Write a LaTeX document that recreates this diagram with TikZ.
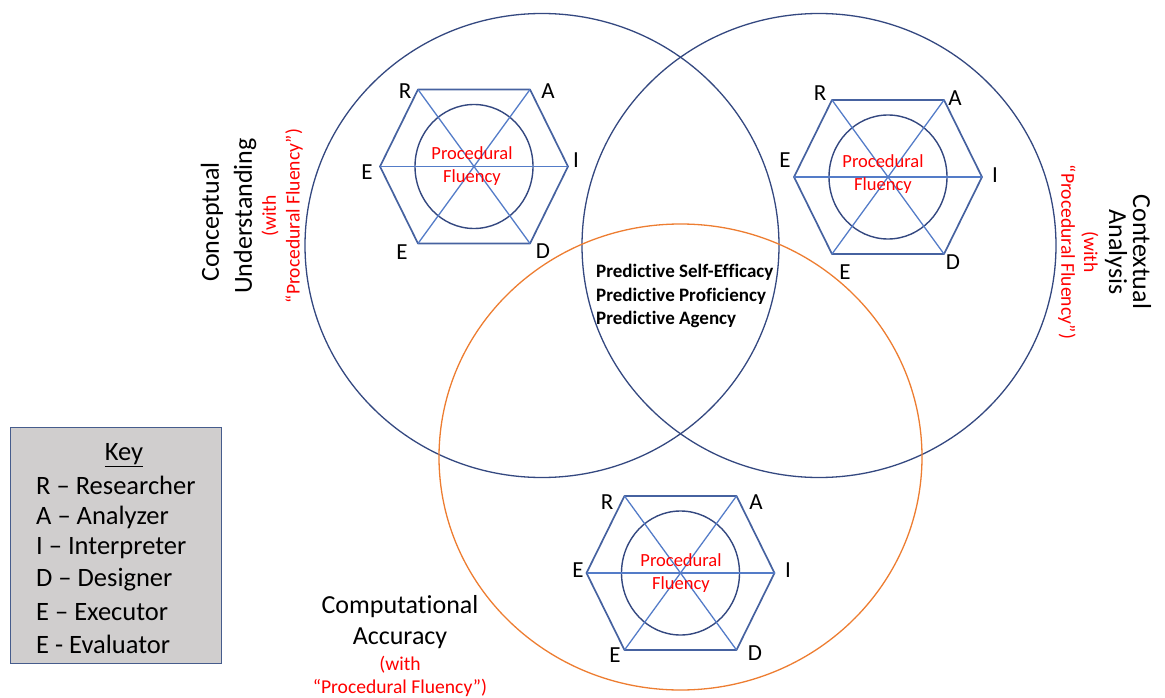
\documentclass[tikz,border=0pt]{standalone}
\usepackage{fontspec}
\setmainfont{Carlito}[Ligatures=NoCommon]
\definecolor{ringblue}{RGB}{52,72,128}
\definecolor{hexblue}{RGB}{70,98,160}
\definecolor{spokeblue}{RGB}{84,124,200}
\definecolor{ringorange}{RGB}{237,125,49}
\definecolor{keygray}{RGB}{208,206,206}
\definecolor{keyedge}{RGB}{70,92,140}
\definecolor{labelred}{RGB}{255,0,0}
\tikzset{
  bigring/.style={draw=ringblue, line width=1.3pt},
  orangering/.style={draw=ringorange, line width=1.3pt},
  hexedge/.style={draw=hexblue, line width=1.7pt, line join=round},
  spoke/.style={draw=spokeblue, line width=1.3pt},
  innerring/.style={draw=ringblue, line width=1.4pt},
  rolelabel/.style={font=\fontsize{23}{27}\selectfont, text=black, inner sep=0pt},
  pftext/.style={text=labelred, align=center, font=\fontsize{18.5}{23}\selectfont, inner sep=0pt},
  headlabel/.style={font=\fontsize{26}{31}\selectfont, text=black, inner sep=0pt},
  redlabel/.style={font=\fontsize{19.6}{23}\selectfont, text=labelred, inner sep=0pt},
  keyline/.style={font=\fontsize{26.5}{31}\selectfont, text=black, inner sep=0pt, anchor=west},
  pics/rolehex/.style={code={
    \coordinate (-c) at (0,0);
    \coordinate (-R) at (-56,-77);
    \coordinate (-A) at (56,-77);
    \coordinate (-I) at (94,0);
    \coordinate (-D) at (56,77);
    \coordinate (-Eb) at (-56,77);
    \coordinate (-El) at (-94,0);
    \draw[innerring] (0,0) ellipse [x radius=59pt, y radius=62pt];
    \draw[hexedge] (-R) -- (-A) -- (-I) -- (-D) -- (-Eb) -- (-El) -- cycle;
    \draw[spoke] (-R) -- (-D);
    \draw[spoke] (-A) -- (-Eb);
    \draw[spoke] (-El) -- (-c) -- (-I);
  }}
}
\begin{document}
\begin{tikzpicture}[x=1pt,y=-1pt]
\useasboundingbox (0,0) rectangle (1165,698);

% the three overlapping domains
\draw[bigring] (542,245.5) ellipse [x radius=237pt, y radius=232pt];
\draw[bigring] (819,245.5) ellipse [x radius=237pt, y radius=232pt];
\draw[orangering] (680.5,457) ellipse [x radius=241.5pt, y radius=233pt];

% role hexagons around procedural fluency
\pic (hl) at (474,166.5) {rolehex};
\pic (hr) at (888,177) {rolehex};
\pic (hb) at (680.5,573) {rolehex};

\node[pftext] (pfl) at (472,166.5) {Procedural\\Fluency};
\node[pftext] (pfr) at (883,174) {Procedural\\Fluency};
\node[pftext] (pfb) at (681,573.5) {Procedural\\Fluency};

% vertex letters, left hexagon
\node[rolelabel] (lR) at (405,91) {R};
\node[rolelabel] (lA) at (548,91) {A};
\node[rolelabel] (lI) at (576,160) {I};
\node[rolelabel] (lD) at (543,251) {D};
\node[rolelabel] (lEb) at (402,252) {E};
\node[rolelabel] (lEl) at (367,172) {E};
% vertex letters, right hexagon
\node[rolelabel] (rR) at (820,93) {R};
\node[rolelabel] (rA) at (955,98) {A};
\node[rolelabel] (rI) at (995,175) {I};
\node[rolelabel] (rD) at (953,262) {D};
\node[rolelabel] (rEb) at (845,272) {E};
\node[rolelabel] (rEl) at (785,160) {E};
% vertex letters, bottom hexagon
\node[rolelabel] (bR) at (607,502) {R};
\node[rolelabel] (bA) at (756,502) {A};
\node[rolelabel] (bI) at (788,570) {I};
\node[rolelabel] (bD) at (755,653) {D};
\node[rolelabel] (bEb) at (615,655) {E};
\node[rolelabel] (bEl) at (578,570) {E};

% shared centre
\node[anchor=west, align=left, inner sep=0pt, text=black,
      font=\fontsize{19}{23.5}\selectfont\bfseries] (core) at (596,296)
  {Predictive Self-Efficacy\\Predictive Proficiency\\Predictive Agency};

% domain titles
\node[headlabel, rotate=90] (cu1) at (212,222) {Conceptual};
\node[headlabel, rotate=90] (cu2) at (245,216) {Understanding};
\node[redlabel, rotate=90] (cu3) at (270,216) {(with};
\node[redlabel, rotate=90] (cu4) at (294,216) {“Procedural Fluency”)};

\node[headlabel, rotate=-90] (ca1) at (1142,252) {Contextual};
\node[headlabel, rotate=-90] (ca2) at (1116,252) {Analysis};
\node[redlabel, rotate=-90] (ca3) at (1090,252) {(with};
\node[redlabel, rotate=-90] (ca4) at (1067,252) {“Procedural Fluency”)};

\node[headlabel] (cp1) at (400,607) {Computational};
\node[headlabel] (cp2) at (400,638) {Accuracy};
\node[redlabel] (cp3) at (400,665) {(with};
\node[redlabel] (cp4) at (400,688) {“Procedural Fluency”)};

% key
\draw[fill=keygray, draw=keyedge, line width=1pt] (10,427) rectangle (221,663);
\node[headlabel, font=\fontsize{26.5}{31}\selectfont] (keyhead) at (124,455) {\underline{Key}};
\node[keyline] (k1) at (36,485) {R – Researcher};
\node[keyline] (k2) at (36,517) {A – Analyzer};
\node[keyline] (k3) at (36,548) {I – Interpreter};
\node[keyline] (k4) at (36,580) {D – Designer};
\node[keyline] (k5) at (36,612) {E – Executor};
\node[keyline] (k6) at (36,644) {E - Evaluator};
\end{tikzpicture}
\end{document}
